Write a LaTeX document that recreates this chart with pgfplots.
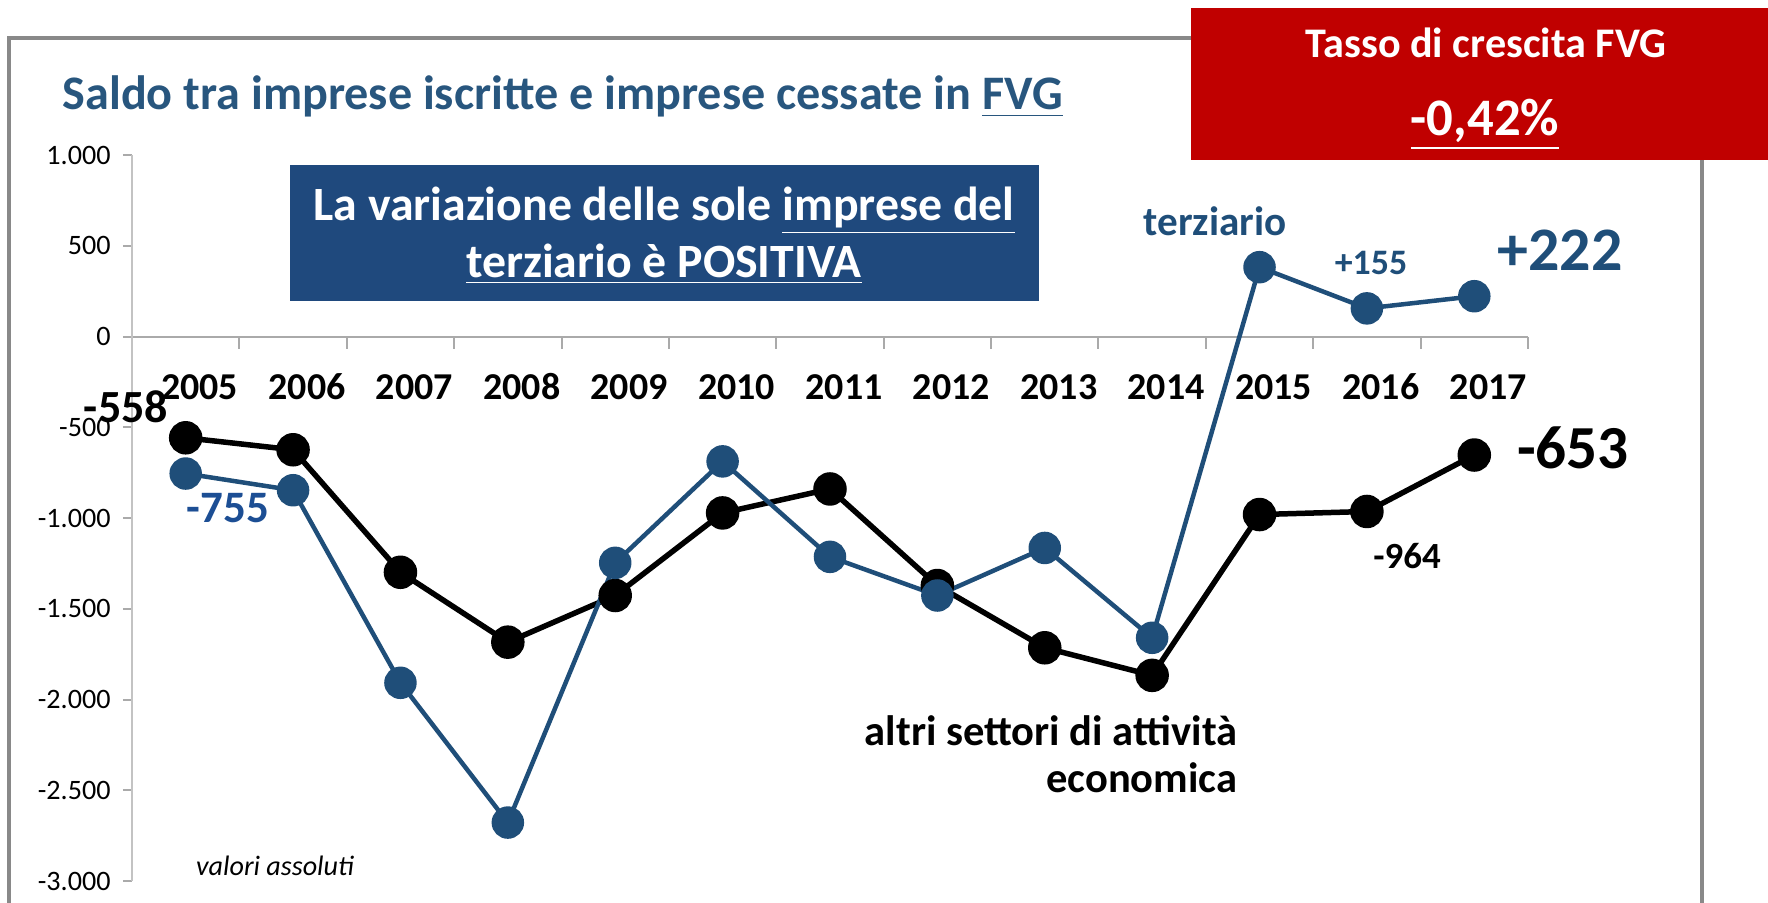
\documentclass[border=0pt]{standalone}
\usepackage{fontspec}
\setmainfont{Carlito}
\usepackage{pgfplots}
\pgfplotsset{compat=1.18}

\definecolor{serblue}{RGB}{31,78,121}
\definecolor{lblblue}{RGB}{28,78,148}
\definecolor{titblue}{RGB}{40,86,126}
\definecolor{boxblue}{RGB}{31,73,125}
\definecolor{boxred}{RGB}{192,0,0}
\definecolor{framegray}{RGB}{137,137,137}
\definecolor{axgray}{RGB}{170,170,170}

\newcommand\fs[1]{\fontsize{#1}{1.15\dimexpr#1pt\relax}\selectfont}

\begin{document}
\begin{tikzpicture}
\begin{scope}[x=0.1mm,y=-0.1mm]
  \path[use as bounding box] (0,0) rectangle (1768,903);
  \draw[framegray,line width=0.4mm] (9,920) -- (9,38) -- (1195,38);
  \draw[framegray,line width=0.4mm] (1702,150) -- (1702,920);
\end{scope}

\begin{axis}[
  at={(13.2mm,-88.1mm)}, anchor=south west,
  scale only axis,
  width=139.6mm, height=72.6mm,
  xmin=-0.5, xmax=12.5,
  ymin=-3000, ymax=1000,
  axis x line=middle, axis y line=left,
  axis line style={-},
  x axis line style={draw=axgray, line width=0.2mm},
  y axis line style={draw=axgray!70, line width=0.2mm},
  tick align=outside,
  xtick={0,...,12},
  xticklabels={2005,2006,2007,2008,2009,2010,2011,2012,2013,2014,2015,2016,2017},
  major x tick style={draw=none},
  minor xtick={-0.5,0.5,...,12.5},
  minor x tick style={draw=axgray, line width=0.2mm},
  minor tick length=1.2mm,
  xticklabel style={anchor=center, text height=2.4mm, text depth=0pt,
    yshift=-4.2mm, xshift=1.4mm, font=\fs{10.8}\bfseries},
  ytick={-3000,-2500,-2000,-1500,-1000,-500,0,500,1000},
  yticklabels={-3.000,-2.500,-2.000,-1.500,-1.000,-500,0,500,1.000},
  y tick style={draw=axgray, line width=0.2mm},
  major tick length=0.9mm,
  yticklabel style={font=\fs{8}},
  clip=false,
]
\addplot[black, line width=0.55mm, mark=*, mark size=1.4mm] coordinates {
  (0,-558) (1,-624) (2,-1299) (3,-1684) (4,-1427) (5,-972) (6,-840)
  (7,-1372) (8,-1715) (9,-1867) (10,-981) (11,-964) (12,-653)
};
\addplot[serblue, line width=0.45mm, mark=*, mark size=1.4mm] coordinates {
  (0,-755) (1,-847) (2,-1908) (3,-2678) (4,-1247) (5,-688) (6,-1214)
  (7,-1427) (8,-1165) (9,-1660) (10,382) (11,155) (12,222)
};
\end{axis}

\begin{scope}[x=0.1mm,y=-0.1mm]
  % red box
  \fill[boxred] (1191,8) rectangle (1768,160);
  \node[white, anchor=base, inner sep=0] at (1486,58)
    {\fs{12.0}\bfseries Tasso di crescita FVG};
  \node[white, anchor=base, inner sep=0] at (1485,136)
    {\fs{15.0}\bfseries\underline{-0,42\%}};
  % title
  \node[titblue, anchor=base west, inner sep=0] at (62,110)
    {\fs{13.7}\bfseries Saldo tra imprese iscritte e imprese cessate in \underline{FVG}};
  % blue box
  \fill[boxblue] (290,165) rectangle (1039,301);
  \node[white, anchor=base, inner sep=0] at (664,220)
    {\fs{13.6}\bfseries La variazione delle sole \underline{imprese del}};
  \node[white, anchor=base, inner sep=0] at (664,277)
    {\fs{13.6}\bfseries\underline{terziario è POSITIVA}};
  % series labels
  \node[serblue, inner sep=0] at (1215,221) {\fs{11.7}\bfseries terziario};
  \node[serblue, inner sep=0] at (1371,263) {\fs{10.2}\bfseries +155};
  \node[serblue, inner sep=0] at (1560,250) {\fs{17.6}\bfseries +222};
  \node[lblblue, inner sep=0] at (228,508) {\fs{12.8}\bfseries -755};
  \node[black, inner sep=0] at (126,407) {\fs{13.1}\bfseries -558};
  \node[black, inner sep=0] at (1573,448) {\fs{17.4}\bfseries -653};
  \node[black, inner sep=0] at (1407,556) {\fs{10.5}\bfseries -964};
  \node[black, anchor=base east, inner sep=0] at (1238,745)
    {\fs{12.1}\bfseries altri settori di attività};
  \node[black, anchor=base east, inner sep=0] at (1238,792)
    {\fs{12.1}\bfseries economica};
  \node[black, inner sep=0] at (275,866) {\fs{8}\itshape valori assoluti};
\end{scope}
\end{tikzpicture}
\end{document}
